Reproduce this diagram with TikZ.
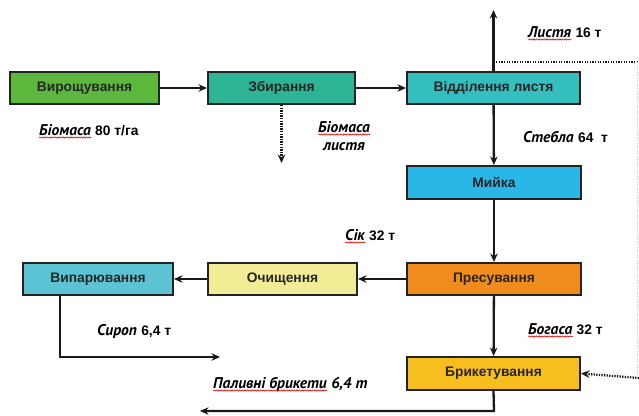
\documentclass[tikz,border=0pt]{standalone}
\usepackage{fontspec}
\setmainfont{Liberation Sans}
\newfontfamily\ptit{PT Sans}
\usetikzlibrary{arrows.meta,decorations.pathmorphing}
\definecolor{cVir}{RGB}{92,184,60}
\definecolor{cZb}{RGB}{44,180,148}
\definecolor{cVid}{RGB}{52,190,190}
\definecolor{cMyk}{RGB}{42,182,230}
\definecolor{cPres}{RGB}{240,140,30}
\definecolor{cBryk}{RGB}{246,190,30}
\definecolor{cOch}{RGB}{242,236,150}
\definecolor{cVyp}{RGB}{92,195,212}
\definecolor{cEdge}{RGB}{35,35,35}
\begin{document}
\begin{tikzpicture}[x=1pt,y=-1pt,
  box/.style={draw=cEdge,line width=2pt,inner sep=0pt,minimum height=32pt,
    font=\fontsize{13.8}{15}\selectfont\bfseries,text=black!85},
  conn/.style={draw=black!90,line width=2.3pt,-{Stealth[length=8.5pt,width=7.5pt]}},
  dconn/.style={draw=black!90,line width=2.3pt,dash pattern=on 1.3pt off 1.3pt,-{Stealth[length=8.5pt,width=7.5pt]}},
  lab/.style={inner sep=0pt,font=\fontsize{13.8}{15}\selectfont\bfseries},
  itl/.style={lab,font=\fontsize{15.5}{17}\selectfont\ptit\bfseries\itshape},
  squig/.style={draw=red!85!black,line width=0.6pt,decorate,
    decoration={snake,amplitude=0.6pt,segment length=2.6pt}}]
\useasboundingbox (0,0) rectangle (639,415);
\fill[white] (0,0) rectangle (639,415);

% boxes
\node[box,fill=cVir,minimum width=149pt] (vir) at (84.5,88) {Вирощування};
\node[box,fill=cZb,minimum width=147pt] (zb) at (281.5,88) {Збирання};
\node[box,fill=cVid,minimum width=173pt] (vid) at (493.5,88) {Відділення листя};
\node[box,fill=cMyk,minimum width=174pt,minimum height=33pt] (myk) at (494,182.5) {Мийка};
\node[box,fill=cPres,minimum width=174pt] (pres) at (494,279) {Пресування};
\node[box,fill=cBryk,minimum width=173pt,minimum height=33pt] (bryk) at (493.5,373.5) {Брикетування};
\node[box,fill=cOch,minimum width=149pt] (och) at (282.5,279) {Очищення};
\node[box,fill=cVyp,minimum width=150pt] (vyp) at (98,279) {Випарювання};

% helper coordinates
\coordinate (zbd) at (283,163);
\coordinate (top) at (494,10);
\coordinate (lt) at (494,62);
\coordinate (rt) at (639,62);
\coordinate (rv) at (637,62);
\coordinate (rb) at (637,378);
\coordinate (rin) at (639,378);
\coordinate (s0) at (60,295);
\coordinate (s1) at (60,357);
\coordinate (s2) at (220,357);
\coordinate (b1) at (494,411);
\coordinate (b2) at (200,411);

% connectors
\draw[conn] (vir) -- (zb);
\draw[conn] (zb) -- (vid);
\draw[dconn] (zb.south) -- (zb.south |- zbd);
\draw[conn] (vid.north) -- (vid.north |- top);
\draw[black!90,line width=2.3pt,dash pattern=on 1.3pt off 1.3pt] (vid.north |- lt) -- (rt);
\draw[black!18,line width=0.8pt,dash pattern=on 1.3pt off 1.3pt] (rv) -- (rb);
\draw[dconn] (rin) -- (bryk.east);
\draw[conn] (vid) -- (myk);
\draw[conn] (myk) -- (pres);
\draw[conn] (pres) -- (och);
\draw[conn] (och) -- (vyp);
\draw[conn] (pres) -- (bryk);
\draw[conn] (vyp.south -| s0) -- (s1) -- (s2);
\draw[conn] (bryk.south) -- (b1) -- (b2);

% labels
\node[itl,anchor=base west] (l1) at (39,135) {Біомаса};
\node[lab,anchor=base west] at ([xshift=4pt]l1.base east) {80 т/га};
\draw[squig] ([yshift=-2.5pt]l1.base west) -- ([yshift=-2.5pt]l1.base east);

\node[itl,anchor=base] (l2) at (344,132) {Біомаса};
\node[itl,anchor=base] (l2b) at (344,150) {листя};
\draw[squig] ([yshift=-2.5pt]l2.base west) -- ([yshift=-2.5pt]l2.base east);

\node[itl,anchor=base west] (l3) at (528,37) {Листя};
\node[lab,anchor=base west] at ([xshift=4pt]l3.base east) {16 т};
\draw[squig] ([yshift=-2.5pt]l3.base west) -- ([yshift=-2.5pt]l3.base east);

\node[itl,anchor=base west] (l4) at (523,142) {Стебла};
\node[lab,anchor=base west] at ([xshift=4pt]l4.base east) {64~~т};

\node[itl,anchor=base west] (l5) at (345,240) {Сік};
\node[lab,anchor=base west] at ([xshift=4pt]l5.base east) {32 т};
\draw[squig] ([yshift=-2.5pt]l5.base west) -- ([yshift=-2.5pt]l5.base east);

\node[itl,anchor=base west] (l6) at (97,335) {Сироп};
\node[lab,anchor=base west] at ([xshift=4pt]l6.base east) {6,4 т};

\node[itl,anchor=base west] (l7) at (528,334) {Богаса};
\node[lab,anchor=base west] at ([xshift=4pt]l7.base east) {32 т};
\draw[squig] ([yshift=-2.5pt]l7.base west) -- ([yshift=-2.5pt]l7.base east);

\node[itl,anchor=base west] (l8) at (213,388) {Паливні брикети};
\node[itl,anchor=base west] at ([xshift=4pt]l8.base east) {6,4 т};
\draw[squig] ([yshift=-2.5pt]l8.base west) -- ([yshift=-2.5pt]l8.base east);
\end{tikzpicture}
\end{document}
